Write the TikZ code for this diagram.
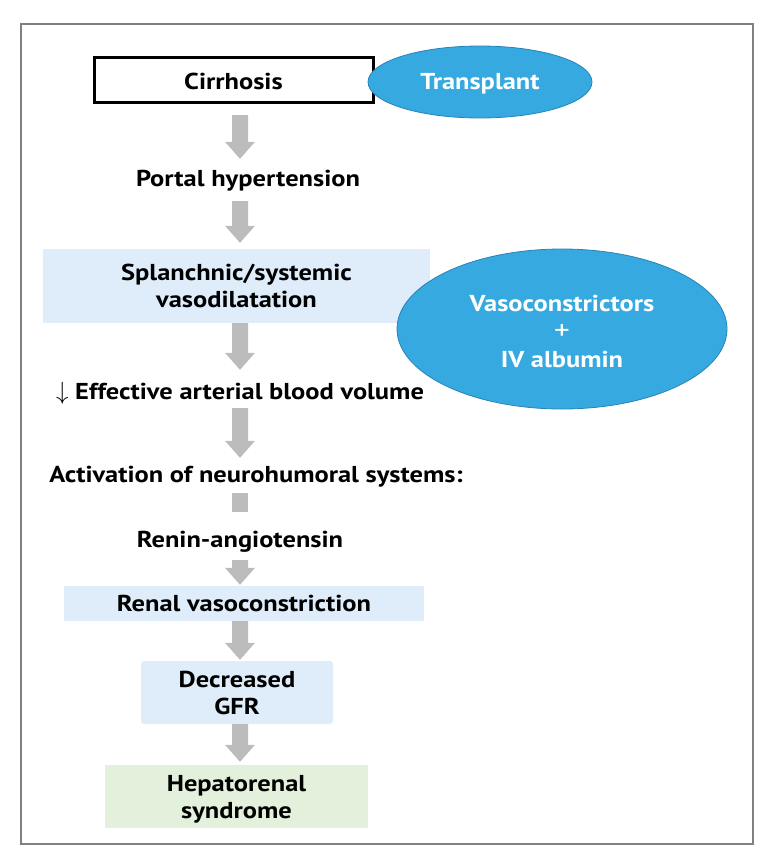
\documentclass[tikz,border=0pt]{standalone}
\usepackage{fontspec}
\setmainfont{PT Sans}[FakeStretch=1.15]
\usetikzlibrary{calc,shapes.geometric}
\definecolor{arrowgray}{RGB}{188,188,188}
\definecolor{lightblue}{RGB}{222,237,249}
\definecolor{lightgreen}{RGB}{226,240,220}
\definecolor{ellblue}{RGB}{54,170,224}
\definecolor{ellborder}{RGB}{40,130,185}
\definecolor{framegray}{RGB}{128,128,128}
\newcommand{\blockarr}[4]{%
  \fill[arrowgray] let \p1=(#1 -| spine), \p2=(#3 -| spine) in
    (\x1-8pt,\y1-#2) -- (\x1+8pt,\y1-#2) -- (\x1+8pt,\y2+#4+17pt) --
    (\x1+15pt,\y2+#4+17pt) -- (\x1,\y2+#4) -- (\x1-15pt,\y2+#4+17pt) --
    (\x1-8pt,\y2+#4+17pt) -- cycle;}
\newcommand{\blockstub}[4]{%
  \fill[arrowgray] let \p1=(#1 -| spine), \p2=(#3 -| spine) in
    (\x1-8pt,\y1-#2) rectangle (\x1+8pt,\y2+#4);}
\begin{document}
\begin{tikzpicture}[x=1pt,y=-1pt,
  mainfont/.style={font=\bfseries\fontsize{23}{27}\selectfont},
  txt/.style={mainfont, inner sep=0pt, text height=16pt, text depth=5pt},
  boxtxt/.style={mainfont, inner sep=0pt, align=center, text height=16pt, text depth=0pt},
  twoline/.style={text height=43pt},
  bluebox/.style={boxtxt, fill=lightblue},
  greenbox/.style={boxtxt, fill=lightgreen},
  treat/.style={ellipse, fill=ellblue, draw=ellborder, line width=0.8pt, inner sep=0pt,
    text=white, align=center, font=\bfseries\fontsize{23}{28}\selectfont,
    text height=16pt, text depth=0pt}
]
\useasboundingbox (0,0) rectangle (776,865);
\draw[framegray, line width=1.5pt] (21,24) rectangle (753,844);
\coordinate (spine) at (240,0);

% flow nodes
\node[boxtxt, draw=black, line width=3pt, minimum width=279pt, minimum height=45pt, text height=18pt]
  (cir) at (233.5,80) {Cirrhosis};
\node[txt, anchor=base] (portal) at (248,186) {Portal hypertension};
\node[bluebox, twoline, minimum width=387pt, minimum height=74pt] (spl) at (236.5,286)
  {Splanchnic/systemic\\vasodilatation};
\node[txt, anchor=base] (eff) at (240,399) {$\downarrow$ Effective arterial blood volume};
\node[txt, anchor=base] (act) at (256,482) {Activation of neurohumoral systems:};
\node[txt, anchor=base] (renin) at (240,547) {Renin-angiotensin};
\node[bluebox, text height=15pt, minimum width=360pt, minimum height=35pt] (renal) at (244,603.5)
  {Renal vasoconstriction};
\node[bluebox, twoline, rounded corners=3pt, minimum width=192pt, minimum height=63pt] (gfr) at (237,692.5)
  {Decreased\\GFR};
\node[greenbox, twoline, minimum width=263pt, minimum height=63pt] (hep) at (236.5,796.5)
  {Hepatorenal\\syndrome};

% block arrows
\blockarr{cir.south}{11pt}{portal.north}{11pt}
\blockarr{portal.south}{10pt}{spl.north}{6pt}
\blockarr{spl.south}{0pt}{eff.north}{13pt}
\blockarr{eff.south}{4pt}{act.north}{8pt}
\blockstub{act.south}{6pt}{renin.north}{19pt}
\blockarr{renin.south}{8pt}{renal.north}{1pt}
\blockarr{renal.south}{0pt}{gfr.north}{1pt}
\blockarr{gfr.south}{0pt}{hep.north}{3pt}

% treatments
\node[treat, text height=14pt, minimum width=224pt, minimum height=72pt] (tr) at (480,82) {Transplant};
\node[treat, text height=76pt, minimum width=330pt, minimum height=160pt] (vaso) at (562,329)
  {Vasoconstrictors\\{\mdseries\fontsize{27}{28}\selectfont +}\\IV albumin};
\end{tikzpicture}
\end{document}
